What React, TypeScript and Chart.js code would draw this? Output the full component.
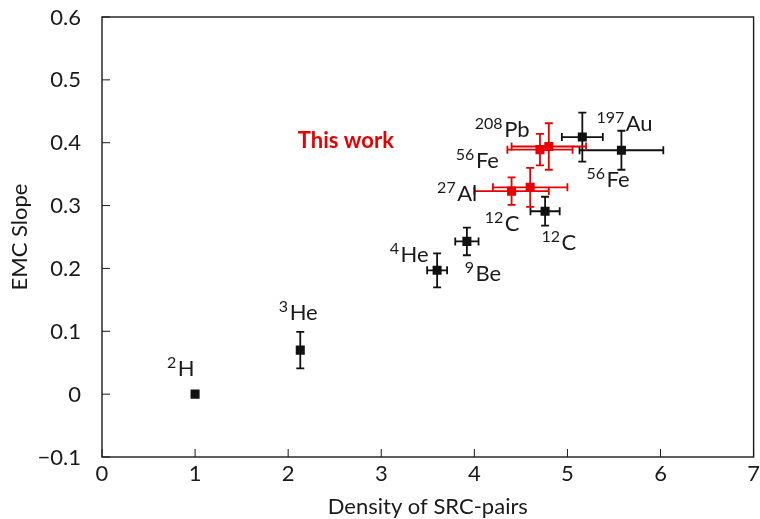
import { useEffect, useRef } from "react";
import { Chart, registerables } from "chart.js";

Chart.register(...registerables);

const FONT = "Lato, 'DejaVu Sans', sans-serif";
const INK = "#1a1a1a";
const RED = "#e60000";

// Earlier measurements: SRC-pair density vs EMC slope
const prevNuclei = ["2H", "3He", "4He", "9Be", "12C", "197Au", "56Fe"];
const prevDensity = [1.0, 2.13, 3.6, 3.92, 4.76, 5.16, 5.58];
const prevSlope = [0.0, 0.07, 0.197, 0.243, 0.291, 0.409, 0.388];
const prevDensityErr = [0, 0, 0.107, 0.125, 0.157, 0.22, 0.45];
const prevSlopeErr = [0, 0.029, 0.027, 0.022, 0.023, 0.039, 0.031];

// This work
const newNuclei = ["27Al", "12C", "56Fe", "208Pb"];
const newDensity = [4.4, 4.6, 4.705, 4.8];
const newSlope = [0.323, 0.329, 0.389, 0.394];
const newDensityErr = [0.4, 0.4, 0.35, 0.4];
const newSlopeErr = [0.022, 0.031, 0.025, 0.037];

// Nucleus labels: mass number (superscript), element, anchor in data units
const labelSup = ["2", "3", "4", "9", "12", "12", "208", "56", "27", "197", "56"];
const labelMain = ["H", "He", "He", "Be", "C", "C", "Pb", "Fe", "Al", "Au", "Fe"];
const labelX = [0.698, 1.9, 3.092, 3.897, 4.112, 4.721, 4.005, 3.801, 3.6, 5.311, 5.204];
const labelY = [0.0287, 0.1186, 0.2097, 0.1804, 0.2595, 0.2292, 0.4084, 0.3602, 0.3072, 0.4185, 0.3299];

const thisWorkText = "This work";
const thisWorkX = 2.104;
const thisWorkY = 0.3909;

const xTitle = "Density of SRC-pairs";
const yTitle = "EMC Slope";

const formatY = (n: number) => {
  if (Math.abs(n) < 1e-9) return "0";
  return n.toFixed(1).replace("-", "\u2212");
};

const decorations = {
  id: "decorations",
  beforeDatasetsDraw(chart: any) {
    const { ctx } = chart;
    const xs = chart.scales.x;
    const ys = chart.scales.y;
    chart.data.datasets.forEach((ds: any) => {
      ctx.save();
      ctx.strokeStyle = ds.backgroundColor;
      ctx.lineWidth = 1.8;
      const cap = 4;
      ds.data.forEach((p: any, i: number) => {
        const cx = xs.getPixelForValue(p.x);
        const cy = ys.getPixelForValue(p.y);
        const ex = ds.xErr[i];
        const ey = ds.yErr[i];
        ctx.beginPath();
        if (ex > 0) {
          const l = xs.getPixelForValue(p.x - ex);
          const r = xs.getPixelForValue(p.x + ex);
          ctx.moveTo(l, cy);
          ctx.lineTo(r, cy);
          ctx.moveTo(l, cy - cap);
          ctx.lineTo(l, cy + cap);
          ctx.moveTo(r, cy - cap);
          ctx.lineTo(r, cy + cap);
        }
        if (ey > 0) {
          const t = ys.getPixelForValue(p.y + ey);
          const b = ys.getPixelForValue(p.y - ey);
          ctx.moveTo(cx, t);
          ctx.lineTo(cx, b);
          ctx.moveTo(cx - cap, t);
          ctx.lineTo(cx + cap, t);
          ctx.moveTo(cx - cap, b);
          ctx.lineTo(cx + cap, b);
        }
        ctx.stroke();
      });
      ctx.restore();
    });
  },
  afterDraw(chart: any) {
    const { ctx, chartArea } = chart;
    const { left, right, top, bottom } = chartArea;
    const xs = chart.scales.x;
    const ys = chart.scales.y;
    ctx.save();

    // frame
    ctx.strokeStyle = INK;
    ctx.lineWidth = 1.4;
    ctx.strokeRect(left, top, right - left, bottom - top);

    // inward tick marks on bottom and left axes
    ctx.lineWidth = 1;
    ctx.beginPath();
    xs.ticks.forEach((t: any) => {
      const px = xs.getPixelForValue(t.value);
      ctx.moveTo(px, bottom);
      ctx.lineTo(px, bottom - 8);
    });
    ys.ticks.forEach((t: any) => {
      const py = ys.getPixelForValue(t.value);
      ctx.moveTo(left, py);
      ctx.lineTo(left + 8, py);
    });
    ctx.stroke();

    // tick labels
    ctx.fillStyle = INK;
    ctx.font = `22px ${FONT}`;
    ctx.textBaseline = "alphabetic";
    ctx.textAlign = "center";
    xs.ticks.forEach((t: any) => {
      ctx.fillText(String(t.value), xs.getPixelForValue(t.value), bottom + 24);
    });
    ctx.textAlign = "right";
    ys.ticks.forEach((t: any) => {
      ctx.fillText(formatY(t.value), left - 21, ys.getPixelForValue(t.value) + 7.5);
    });

    // nucleus labels
    ctx.textAlign = "left";
    labelSup.forEach((sup, i) => {
      const px = xs.getPixelForValue(labelX[i]);
      const py = ys.getPixelForValue(labelY[i]);
      ctx.font = `16px ${FONT}`;
      ctx.fillText(sup, px, py - 8);
      const w = ctx.measureText(sup).width;
      ctx.font = `22px ${FONT}`;
      ctx.fillText(labelMain[i], px + w + 1.5, py);
    });

    // "This work"
    ctx.fillStyle = RED;
    ctx.font = `bold 22px ${FONT}`;
    ctx.fillText(thisWorkText, xs.getPixelForValue(thisWorkX), ys.getPixelForValue(thisWorkY));

    // axis titles
    ctx.fillStyle = INK;
    ctx.font = `22px ${FONT}`;
    ctx.textAlign = "center";
    ctx.fillText(xTitle, (left + right) / 2, bottom + 57);
    ctx.translate(20, (top + bottom) / 2);
    ctx.rotate(-Math.PI / 2);
    ctx.textBaseline = "middle";
    ctx.fillText(yTitle, 0, 0);
    ctx.restore();
  },
};

export default function App() {
  const canvasRef = useRef<HTMLCanvasElement | null>(null);

  useEffect(() => {
    document.body.style.margin = "0";
    const canvas = canvasRef.current;
    if (!canvas) return;
    const chart = new Chart(canvas, {
      type: "scatter",
      data: {
        datasets: [
          {
            label: "Previous",
            data: prevDensity.map((x, i) => ({ x, y: prevSlope[i] })),
            backgroundColor: "#111111",
            borderColor: "#111111",
            borderWidth: 0,
            pointStyle: "rect",
            pointRadius: 6.4,
            xErr: prevDensityErr,
            yErr: prevSlopeErr,
            nuclei: prevNuclei,
          } as any,
          {
            label: thisWorkText,
            data: newDensity.map((x, i) => ({ x, y: newSlope[i] })),
            backgroundColor: RED,
            borderColor: RED,
            borderWidth: 0,
            pointStyle: "rect",
            pointRadius: 6.4,
            xErr: newDensityErr,
            yErr: newSlopeErr,
            nuclei: newNuclei,
          } as any,
        ],
      },
      options: {
        animation: false,
        responsive: false,
        maintainAspectRatio: false,
        layout: { padding: { top: 17, right: 5, left: 0, bottom: 0 } },
        plugins: {
          legend: { display: false },
          tooltip: { enabled: false },
        },
        scales: {
          x: {
            type: "linear",
            min: 0,
            max: 7,
            ticks: { stepSize: 1, display: false },
            grid: { display: false, drawTicks: false },
            border: { display: false },
            afterFit(scale: any) {
              scale.height = 62;
            },
          },
          y: {
            type: "linear",
            min: -0.1,
            max: 0.6,
            ticks: { stepSize: 0.1, display: false },
            grid: { display: false, drawTicks: false },
            border: { display: false },
            afterFit(scale: any) {
              scale.width = 102;
            },
          },
        },
      } as any,
      plugins: [decorations],
    });
    return () => chart.destroy();
  }, []);

  return (
    <div style={{ width: 760, height: 519 }}>
      <canvas ref={canvasRef} width={760} height={519} style={{ display: "block" }} />
    </div>
  );
}
